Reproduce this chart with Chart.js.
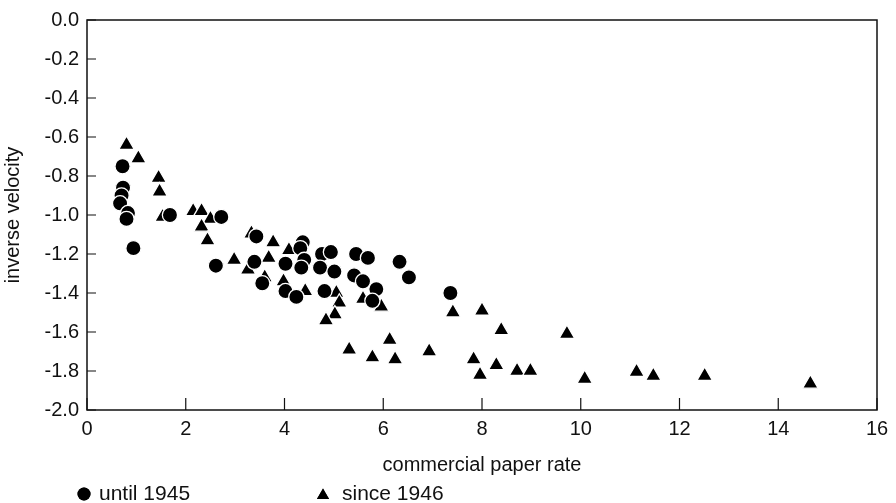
<!DOCTYPE html>
<html>
<head>
<meta charset="utf-8">
<script src="https://cdn.jsdelivr.net/npm/chart.js@4.4.1/dist/chart.umd.min.js"></script>
<style>
  html, body { margin: 0; padding: 0; background: #fff; }
  #wrap { width: 896px; height: 503px; position: relative; }
</style>
</head>
<body>
<div id="wrap"><canvas id="c" width="896" height="503"></canvas></div>
<script>
// Commercial paper rate vs. inverse velocity, split by period
const until1945X = [0.72, 0.73, 0.70, 0.67, 0.83, 0.80, 0.94, 1.68, 2.72, 2.61, 3.43, 3.39, 3.55, 4.02, 4.02, 4.24, 4.37, 4.32, 4.40, 4.34, 4.76, 4.94, 4.72, 5.01, 4.81, 5.45, 5.69, 5.41, 5.59, 5.86, 5.78, 6.33, 6.52, 7.36];
const until1945Y = [-0.75, -0.86, -0.90, -0.94, -0.99, -1.02, -1.17, -1.00, -1.01, -1.26, -1.11, -1.24, -1.35, -1.25, -1.39, -1.42, -1.14, -1.17, -1.23, -1.27, -1.20, -1.19, -1.27, -1.29, -1.39, -1.20, -1.22, -1.31, -1.34, -1.38, -1.44, -1.24, -1.32, -1.40];

const since1946X = [0.80, 1.04, 1.45, 1.47, 1.53, 2.15, 2.32, 2.50, 2.32, 2.44, 2.98, 3.33, 3.77, 3.68, 3.26, 3.60, 4.09, 3.98, 4.42, 5.05, 5.11, 5.02, 4.84, 5.59, 5.96, 5.31, 5.78, 6.13, 6.24, 6.93, 7.41, 8.00, 8.39, 7.83, 7.96, 8.29, 8.71, 8.98, 9.72, 10.08, 11.13, 11.47, 12.51, 14.65];
const since1946Y = [-0.64, -0.71, -0.81, -0.88, -1.01, -0.98, -0.98, -1.02, -1.06, -1.13, -1.23, -1.095, -1.14, -1.22, -1.28, -1.32, -1.18, -1.34, -1.39, -1.40, -1.45, -1.51, -1.54, -1.43, -1.47, -1.69, -1.73, -1.64, -1.74, -1.70, -1.50, -1.49, -1.59, -1.74, -1.82, -1.77, -1.80, -1.80, -1.61, -1.84, -1.805, -1.825, -1.825, -1.865];

const xTicks = [0, 2, 4, 6, 8, 10, 12, 14, 16];
const yTicks = [0.0, -0.2, -0.4, -0.6, -0.8, -1.0, -1.2, -1.4, -1.6, -1.8, -2.0];

const seriesNames = ['until 1945', 'since 1946'];
const xTitle = 'commercial paper rate';
const yTitle = 'inverse velocity';

const FONT = '"Liberation Sans", Arial, sans-serif';
const INK = '#111';

const toPoints = (xs, ys) => xs.map((x, i) => ({ x: x, y: ys[i] }));

// Frame around the plot plus inward-pointing tick marks
const framePlugin = {
  id: 'frame',
  afterDatasetsDraw(chart) {
    const { ctx, chartArea: a, scales } = chart;
    ctx.save();
    ctx.strokeStyle = INK;
    ctx.lineWidth = 1.5;
    ctx.strokeRect(a.left, a.top, a.right - a.left, a.bottom - a.top);
    ctx.lineWidth = 1.2;
    ctx.beginPath();
    scales.y.ticks.forEach((t, i) => {
      const y = scales.y.getPixelForTick(i);
      ctx.moveTo(a.left, y);
      ctx.lineTo(a.left + 9, y);
    });
    scales.x.ticks.forEach((t, i) => {
      const x = scales.x.getPixelForTick(i);
      ctx.moveTo(x, a.bottom);
      ctx.lineTo(x, a.bottom - 12);
    });
    ctx.stroke();
    ctx.restore();
  }
};

// Legend row beneath the axis title
const legendRow = {
  id: 'legendRow',
  afterDraw(chart) {
    const { ctx } = chart;
    const slots = [{ mx: 84, tx: 99 }, { mx: 323, tx: 342 }];
    const y = 494;
    ctx.save();
    chart.data.datasets.forEach((ds, i) => {
      const s = slots[i];
      Chart.helpers.drawPoint(ctx, {
        pointStyle: ds.pointStyle,
        radius: ds.pointStyle === 'triangle' ? 7 : 6.5,
        borderWidth: 0
      }, s.mx, ds.pointStyle === 'triangle' ? y + 1.5 : y);
      ctx.fillStyle = '#000';
      ctx.fill();
      ctx.font = '21px ' + FONT;
      ctx.textBaseline = 'middle';
      ctx.textAlign = 'left';
      ctx.fillStyle = INK;
      ctx.fillText(ds.label, s.tx, y);
    });
    ctx.restore();
  }
};

new Chart(document.getElementById('c'), {
  type: 'scatter',
  data: {
    datasets: [
      {
        label: seriesNames[0],
        data: toPoints(until1945X, until1945Y),
        pointStyle: 'circle',
        pointRadius: 7.6,
        pointHoverRadius: 7.6,
        backgroundColor: '#000',
        borderColor: '#fff',
        borderWidth: 1.3
      },
      {
        label: seriesNames[1],
        data: toPoints(since1946X, since1946Y),
        pointStyle: 'triangle',
        pointRadius: 9,
        pointHoverRadius: 9,
        backgroundColor: '#000',
        borderColor: '#fff',
        borderWidth: 1.3
      }
    ]
  },
  options: {
    responsive: false,
    animation: false,
    events: [],
    layout: { padding: { top: 20, right: 19, left: 0, bottom: 0 } },
    plugins: { legend: { display: false }, tooltip: { enabled: false } },
    scales: {
      x: {
        type: 'linear',
        min: 0, max: 16,
        afterBuildTicks(scale) { scale.ticks = xTicks.map(v => ({ value: v })); },
        afterFit(scale) { scale.height = 93; },
        grid: { display: false, drawTicks: false },
        border: { display: false },
        ticks: {
          padding: 7,
          color: INK,
          font: { family: FONT, size: 20 },
          callback: v => String(v)
        },
        title: {
          display: true,
          text: xTitle,
          color: INK,
          font: { family: FONT, size: 20 },
          padding: { top: 0, bottom: 26 }
        }
      },
      y: {
        type: 'linear',
        min: -2, max: 0,
        afterBuildTicks(scale) { scale.ticks = yTicks.map(v => ({ value: v })); },
        afterFit(scale) { scale.width = 87; },
        grid: { display: false, drawTicks: false },
        border: { display: false },
        ticks: {
          padding: 8,
          color: INK,
          font: { family: FONT, size: 20 },
          callback: v => Number(v).toFixed(1)
        },
        title: {
          display: true,
          text: yTitle,
          color: INK,
          font: { family: FONT, size: 20 },
          padding: { top: 1, bottom: 0 }
        }
      }
    }
  },
  plugins: [framePlugin, legendRow]
});
</script>
</body>
</html>
